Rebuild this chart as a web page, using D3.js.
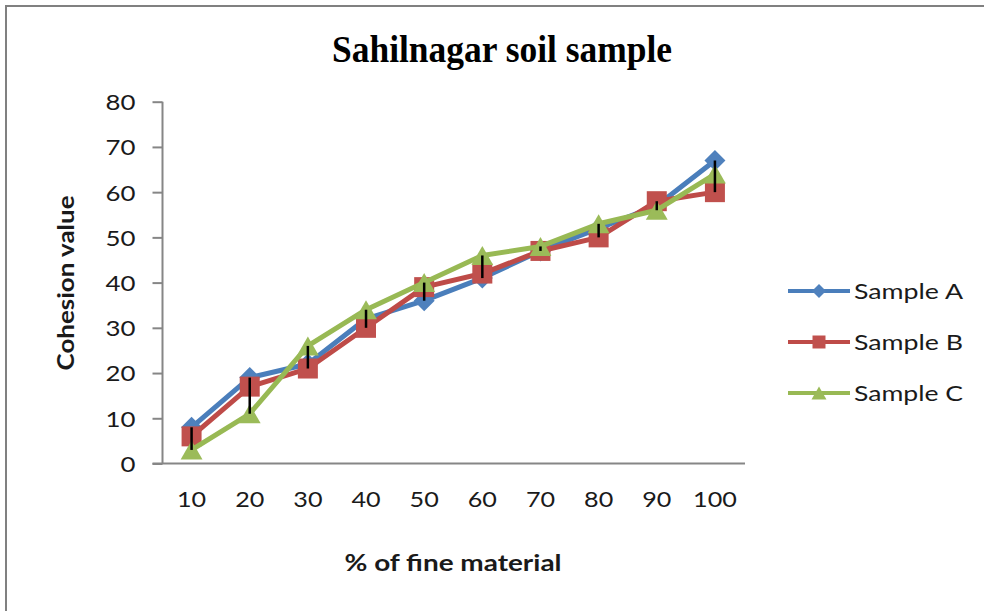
<!DOCTYPE html>
<html>
<head>
<meta charset="utf-8">
<script src="https://cdn.jsdelivr.net/npm/d3@7"></script>
<style>
  html, body { margin: 0; padding: 0; background: #fff; }
  svg { display: block; }
  text { font-family: Lato, "Open Sans", sans-serif; fill: #1a1a1a; }
</style>
</head>
<body>
<svg id="chart" width="984" height="611"></svg>
<script>
// Cohesion value per % of fine material, three samples
const categories = ["10", "20", "30", "40", "50", "60", "70", "80", "90", "100"];
const sampleA = [8, 19, 22, 32, 36, 41, 47, 52, 57, 67];
const sampleB = [6, 17, 21, 30, 39, 42, 47, 50, 58, 60];
const sampleC = [3, 11, 26, 34, 40, 46, 48, 53, 56, 64];
const seriesNames = ["Sample A", "Sample B", "Sample C"];
const yTicks = [0, 10, 20, 30, 40, 50, 60, 70, 80];

const seriesList = [
  { name: seriesNames[0], values: sampleA, line: "#4a7ebb", fill: "#4f81bd", marker: "diamond" },
  { name: seriesNames[1], values: sampleB, line: "#be4b48", fill: "#c0504d", marker: "square" },
  { name: seriesNames[2], values: sampleC, line: "#98b954", fill: "#9bbb59", marker: "triangle" }
];

const svg = d3.select("#chart");

// outer frame (top and left edges)
svg.append("line").attr("x1", 5).attr("x2", 984).attr("y1", 6).attr("y2", 6)
  .attr("stroke", "#808080").attr("stroke-width", 2);
svg.append("line").attr("x1", 6).attr("x2", 6).attr("y1", 5).attr("y2", 611)
  .attr("stroke", "#808080").attr("stroke-width", 2);

const plot = { left: 162.5, right: 744, top: 101.7, bottom: 463.5 };

const x = d3.scaleBand().domain(categories).range([plot.left, plot.right]);
const y = d3.scaleLinear().domain([0, 80]).range([plot.bottom, plot.top]);
const cx = c => x(c) + x.bandwidth() / 2;

// title
svg.append("text")
  .attr("x", 502).attr("y", 62)
  .attr("text-anchor", "middle")
  .style("font-family", "'Liberation Serif', 'Times New Roman', serif")
  .style("font-weight", "bold")
  .style("font-size", "38px")
  .style("fill", "#000")
  .attr("textLength", 340).attr("lengthAdjust", "spacingAndGlyphs")
  .text("Sahilnagar soil sample");

// y axis
const yAxis = svg.append("g")
  .attr("transform", `translate(${plot.left},0)`)
  .call(d3.axisLeft(y).tickValues(yTicks).tickSize(10).tickPadding(17).tickFormat(d3.format("d")));
yAxis.select(".domain").attr("stroke", "#868686").attr("stroke-width", 2).attr("d", `M0,${plot.top}V${plot.bottom}`);
yAxis.selectAll(".tick line").attr("stroke", "#868686").attr("stroke-width", 2);
yAxis.selectAll(".tick text")
  .style("font-size", "22px").style("font-family", "Lato, sans-serif")
  .attr("fill", "#1a1a1a")
  .attr("dy", "0.36em")
  .attr("textLength", d => String(d).length * 15)
  .attr("lengthAdjust", "spacingAndGlyphs");

// x axis (category axis without tick marks)
const xAxis = svg.append("g")
  .attr("transform", `translate(0,${plot.bottom})`)
  .call(d3.axisBottom(x).tickSize(0).tickPadding(36));
xAxis.select(".domain").attr("stroke", "#868686").attr("stroke-width", 2)
  .attr("d", `M${plot.left - 10},0H${plot.right + 1}`);
xAxis.selectAll(".tick text")
  .style("font-size", "22px").style("font-family", "Lato, sans-serif")
  .attr("fill", "#1a1a1a")
  .attr("dy", "0.36em")
  .attr("textLength", d => d.length * 14.6)
  .attr("lengthAdjust", "spacingAndGlyphs");

// axis titles
svg.append("text")
  .attr("transform", "translate(74,283) rotate(-90)")
  .attr("text-anchor", "middle")
  .style("font-size", "22px").style("font-weight", "bold")
  .attr("textLength", 175).attr("lengthAdjust", "spacingAndGlyphs")
  .text("Cohesion value");

svg.append("text")
  .attr("x", 453).attr("y", 571)
  .attr("text-anchor", "middle")
  .style("font-size", "22px").style("font-weight", "bold")
  .attr("textLength", 217).attr("lengthAdjust", "spacingAndGlyphs")
  .text("% of fine material");

// marker shapes
function markerPath(type, s) {
  if (type === "diamond") return `M0,${-s}L${s},0L0,${s}L${-s},0Z`;
  if (type === "square") return `M${-s},${-s}H${s}V${s}H${-s}Z`;
  return `M0,${-s}L${s * 1.15},${s}H${-s * 1.15}Z`;
}
const markerSize = { diamond: 10.5, square: 10, triangle: 9.5 };
const legendMarkerSize = { diamond: 7, square: 6.5, triangle: 6.5 };

const line = d3.line().x((d, i) => cx(categories[i])).y(d => y(d));

seriesList.forEach(s => {
  const g = svg.append("g");
  g.append("path")
    .datum(s.values)
    .attr("d", line)
    .attr("fill", "none")
    .attr("stroke", s.line)
    .attr("stroke-width", 5)
    .attr("stroke-linejoin", "round");
  g.selectAll("path.mk")
    .data(s.values)
    .join("path")
    .attr("class", "mk")
    .attr("transform", (d, i) => `translate(${cx(categories[i])},${y(d)})`)
    .attr("d", markerPath(s.marker, markerSize[s.marker]))
    .attr("fill", s.fill);
});

// high-low lines across the three samples
const hiLo = categories.map((c, i) => {
  const vals = seriesList.map(s => s.values[i]);
  return { c, hi: d3.max(vals), lo: d3.min(vals) };
});
svg.append("g").selectAll("line")
  .data(hiLo)
  .join("line")
  .attr("x1", d => cx(d.c)).attr("x2", d => cx(d.c))
  .attr("y1", d => y(d.hi)).attr("y2", d => y(d.lo))
  .attr("stroke", "#000").attr("stroke-width", 2.5);

// legend
const legend = svg.append("g");
seriesList.forEach((s, i) => {
  const ly = 291 + i * 51;
  legend.append("line")
    .attr("x1", 788).attr("x2", 850).attr("y1", ly).attr("y2", ly)
    .attr("stroke", s.line).attr("stroke-width", 4);
  legend.append("path")
    .attr("transform", `translate(819,${ly})`)
    .attr("d", markerPath(s.marker, legendMarkerSize[s.marker]))
    .attr("fill", s.fill);
  legend.append("text")
    .attr("x", 854).attr("y", ly).attr("dy", "0.36em")
    .style("font-size", "22px")
    .attr("textLength", 109).attr("lengthAdjust", "spacingAndGlyphs")
    .text(s.name);
});
</script>
</body>
</html>
